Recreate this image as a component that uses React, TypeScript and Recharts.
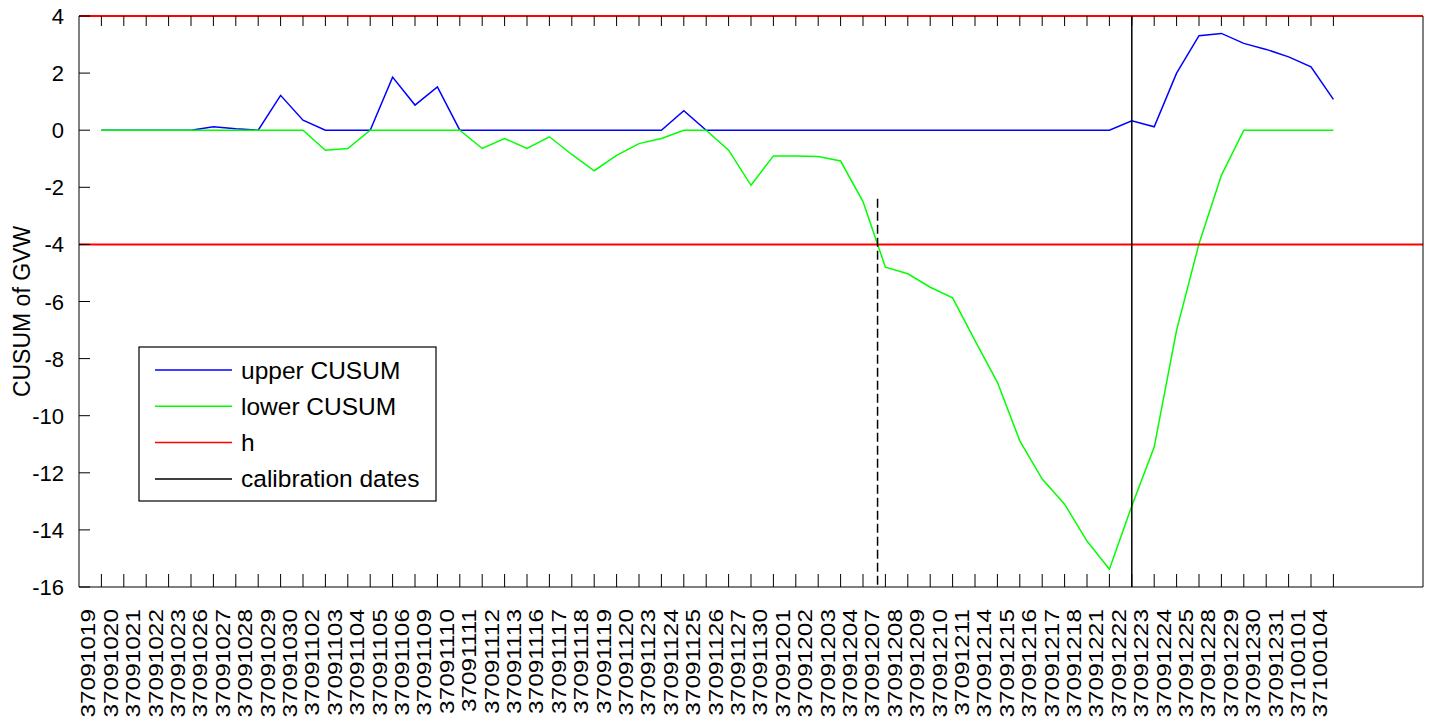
import React from 'react'
import { LineChart, Line, XAxis, YAxis, ReferenceLine } from 'recharts'

const dates = [
  '37091019', '37091020', '37091021', '37091022', '37091023', '37091026', '37091027', '37091028',
  '37091029', '37091030', '37091102', '37091103', '37091104', '37091105', '37091106', '37091109',
  '37091110', '37091111', '37091112', '37091113', '37091116', '37091117', '37091118', '37091119',
  '37091120', '37091123', '37091124', '37091125', '37091126', '37091127', '37091130', '37091201',
  '37091202', '37091203', '37091204', '37091207', '37091208', '37091209', '37091210', '37091211',
  '37091214', '37091215', '37091216', '37091217', '37091218', '37091221', '37091222', '37091223',
  '37091224', '37091225', '37091228', '37091229', '37091230', '37091231', '37100101', '37100104',
]

const upperCusum = [
  0, 0, 0, 0, 0, 0.12, 0.05, 0, 1.22, 0.35, 0, 0, 0, 1.86, 0.88, 1.52,
  0, 0, 0, 0, 0, 0, 0, 0, 0, 0, 0.68, 0, 0, 0, 0, 0,
  0, 0, 0, 0, 0, 0, 0, 0, 0, 0, 0, 0, 0, 0, 0.33, 0.12,
  2.0, 3.31, 3.39, 3.04, 2.83, 2.57, 2.22, 1.08,
]

const lowerCusum = [
  0, 0, 0, 0, 0, 0, 0, 0, 0, 0, -0.7, -0.64, 0, 0, 0, 0,
  0, -0.64, -0.29, -0.64, -0.23, -0.85, -1.42, -0.88, -0.47, -0.29, 0, 0, -0.7, -1.93, -0.9, -0.9,
  -0.92, -1.08, -2.5, -4.8, -5.03, -5.5, -5.87, -7.37, -8.83, -10.88, -12.22, -13.1, -14.39, -15.38, -13.16, -11.1,
  -7.0, -3.98, -1.58, 0, 0, 0, 0, 0,
]

const hLimits = [4, -4]
const calibrationIndex = 46
const alarmIndex = 34.65
const alarmTop = -2.4
const yTicks = [-16, -14, -12, -10, -8, -6, -4, -2, 0, 2, 4]

const legendItems = [
  { name: 'upper CUSUM', color: '#0000ff' },
  { name: 'lower CUSUM', color: '#00ff00' },
  { name: 'h', color: '#ff0000' },
  { name: 'calibration dates', color: '#000000' },
]

const data = dates.map((d, i) => ({ i, date: d, upper: upperCusum[i], lower: lowerCusum[i] }))
const xTicks = dates.map((_, i) => i)

const font = '"Liberation Sans", Arial, Helvetica, sans-serif'

function BottomTick({ x, y, payload }: any) {
  return (
    <g>
      <line x1={x} x2={x} y1={y} y2={y - 13} stroke="#000" />
      <text
        transform={`translate(${x - 6},${y + 22}) rotate(-90) scale(1.22,1)`}
        textAnchor="end"
        fontSize={20}
        fontFamily={font}
        fill="#000"
      >
        {dates[payload.value]}
      </text>
    </g>
  )
}

function TopTick({ x, y }: any) {
  return <line x1={x} x2={x} y1={y} y2={y + 10} stroke="#000" />
}

function LeftTick({ x, y, payload }: any) {
  return (
    <g>
      <line x1={x} x2={x + 11} y1={y} y2={y} stroke="#000" />
      <text x={x - 15} y={y + 8} textAnchor="end" fontSize={22} fontFamily={font} fill="#000">
        {payload.value}
      </text>
    </g>
  )
}

function RightTick({ x, y }: any) {
  return <line x1={x - 11} x2={x} y1={y} y2={y} stroke="#000" />
}

function YLabel({ viewBox }: any) {
  const cx = viewBox.x + 22
  const cy = viewBox.y + viewBox.height / 2 + 10
  return (
    <text
      transform={`translate(${cx},${cy}) rotate(-90)`}
      textAnchor="middle"
      dominantBaseline="central"
      fontSize={23}
      fontFamily={font}
      fill="#000"
    >
      CUSUM of GVW
    </text>
  )
}

function LegendBox() {
  return (
    <svg width={299} height={156} style={{ position: 'absolute', left: 138, top: 346 }}>
      <rect x={1} y={1} width={297} height={154} fill="#fff" stroke="#000" strokeWidth={1.2} />
      {legendItems.map((it, k) => {
        const cy = 24 + k * 36.3
        return (
          <g key={it.name}>
            <line x1={17} x2={94} y1={cy} y2={cy} stroke={it.color} strokeWidth={1.5} />
            <text x={103} y={cy + 8.5} fontSize={24.5} fontFamily={font} fill="#000">
              {it.name}
            </text>
          </g>
        )
      })}
    </svg>
  )
}

export default function App() {
  return (
    <div style={{ position: 'absolute', left: 0, top: 0, background: '#fff' }}>
      <LineChart width={1435} height={721} data={data} margin={{ top: 0, right: 0, bottom: 0, left: 0 }}>
        <XAxis
          dataKey="i"
          type="number"
          domain={[-1, 59]}
          ticks={xTicks}
          interval={0}
          height={134}
          tickSize={0}
          tickMargin={0}
          tickLine={false}
          axisLine={{ stroke: '#000' }}
          tick={<BottomTick />}
        />
        <XAxis
          xAxisId="t"
          orientation="top"
          dataKey="i"
          type="number"
          domain={[-1, 59]}
          ticks={xTicks}
          interval={0}
          height={16}
          tickSize={0}
          tickMargin={0}
          tickLine={false}
          axisLine={false}
          tick={<TopTick />}
        />
        <YAxis
          type="number"
          domain={[-16, 4]}
          ticks={yTicks}
          interval={0}
          width={79}
          tickSize={0}
          tickMargin={0}
          tickLine={false}
          axisLine={{ stroke: '#000' }}
          tick={<LeftTick />}
          label={<YLabel />}
        />
        <YAxis
          yAxisId="r"
          orientation="right"
          type="number"
          domain={[-16, 4]}
          ticks={yTicks}
          interval={0}
          width={12}
          tickSize={0}
          tickMargin={0}
          tickLine={false}
          axisLine={{ stroke: '#000' }}
          tick={<RightTick />}
        />
        <Line dataKey="upper" stroke="#0000ff" strokeWidth={1.5} dot={false} isAnimationActive={false} />
        <Line dataKey="lower" stroke="#00ff00" strokeWidth={1.5} dot={false} isAnimationActive={false} />
        {hLimits.map((h) => (
          <ReferenceLine key={h} y={h} stroke="#ff0000" strokeWidth={2} />
        ))}
        <ReferenceLine x={calibrationIndex} stroke="#000" strokeWidth={1.5} />
        <ReferenceLine
          segment={[
            { x: alarmIndex, y: alarmTop },
            { x: alarmIndex, y: -16 },
          ]}
          stroke="#000"
          strokeWidth={1.5}
          strokeDasharray="9 4"
        />
      </LineChart>
      <LegendBox />
    </div>
  )
}
